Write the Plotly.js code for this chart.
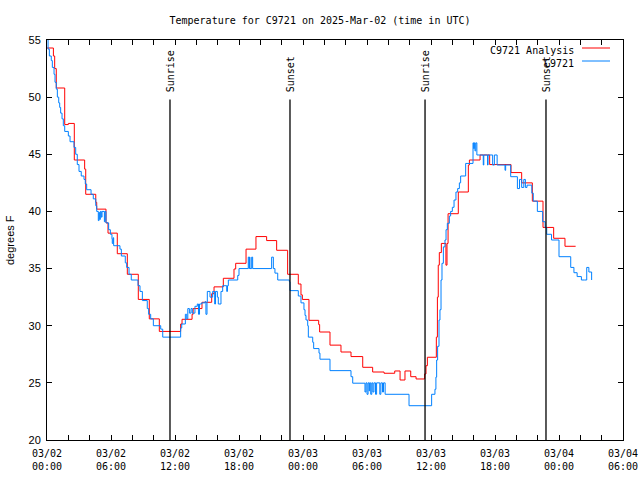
<!DOCTYPE html>
<html>
<head>
<meta charset="utf-8">
<script src="https://cdn.plot.ly/plotly-3.0.1.min.js"></script>
<style>html,body{margin:0;padding:0;background:#fff;}#chart{width:640px;height:480px;}</style>
</head>
<body>
<div id="chart"></div>
<script>
// Hours since 2025-03-02 00:00 UTC
const analysisHours = [0.00,0.60,0.72,0.87,1.66,2.00,2.56,3.53,3.63,4.57,4.66,5.53,5.72,6.59,7.53,8.56,9.59,10.53,
  12.53,12.66,13.60,13.70,14.53,15.44,15.66,16.53,17.53,17.69,18.66,19.59,20.59,21.53,22.56,23.56,23.81,23.94,
  24.56,25.47,25.56,26.53,27.56,28.50,29.60,30.53,31.60,32.60,33.10,33.56,34.10,34.60,35.40,35.53,35.66,36.50,
  36.60,36.68,36.78,36.97,37.40,37.50,37.60,38.56,39.50,39.60,40.60,41.50,43.50,44.50,45.50,46.50,47.50,48.56,49.56];
const analysisTemps = [54.3,53.6,52.5,50.8,47.6,47.7,44.5,43.7,41.5,40.8,40.2,39.0,38.1,36.3,34.5,32.3,30.6,29.5,
  30.15,30.56,31.0,31.5,32.05,32.8,33.4,34.15,34.96,35.46,36.7,37.8,37.45,36.6,34.5,33.65,32.7,32.3,
  30.47,30.1,29.45,28.3,27.7,27.3,26.36,25.95,25.84,26.04,25.25,26.04,25.54,25.34,25.78,26.5,27.24,29.0,
  32.5,35.3,36.4,37.2,35.3,37.2,39.8,41.7,44.06,44.5,44.94,44.1,43.4,42.5,40.9,38.6,37.65,36.95,36.95];

const obsHours = [0.00,0.10,0.22,0.40,0.50,0.66,0.75,0.87,0.97,1.10,1.19,1.28,1.41,1.53,1.66,2.00,2.16,2.53,2.69,2.84,
  3.00,3.21,3.47,3.59,3.72,4.13,4.34,4.57,4.66,4.81,4.88,4.94,5.00,5.09,5.16,5.38,5.44,5.53,5.78,5.94,6.09,6.12,6.20,6.25,
  6.84,6.97,7.34,7.47,7.69,7.90,8.53,8.72,8.94,9.40,9.53,9.72,9.97,10.66,10.85,
  12.53,12.63,12.97,13.10,13.20,13.35,13.50,13.62,13.87,14.09,14.20,14.30,14.50,14.81,14.90,15.00,15.03,15.28,
  15.53,15.72,15.80,15.97,16.06,16.31,16.47,16.85,16.92,17.00,17.88,18.00,18.87,18.95,18.98,19.03,19.19,19.28,21.06,21.22,
  21.37,21.63,22.72,22.78,23.56,23.81,24.09,24.19,24.28,24.44,24.50,24.91,25.00,25.50,25.59,26.53,28.50,28.66,
  29.81,29.90,30.00,30.10,30.20,30.25,30.35,30.45,30.55,30.65,30.80,30.90,31.20,31.30,31.45,31.55,31.70,33.94,
  36.06,36.37,36.46,36.53,36.62,36.75,36.84,36.94,37.03,37.16,37.31,37.41,37.53,37.72,37.84,38.00,38.16,38.34,38.50,38.66,38.78,
  39.25,39.94,40.00,40.06,40.12,40.20,40.30,40.90,40.95,41.30,41.35,41.78,41.94,42.20,42.94,43.00,43.47,44.10,
  44.30,44.50,44.70,44.85,45.00,45.45,45.59,45.97,46.47,46.70,46.85,47.30,48.00,49.10,49.40,49.70,50.10,50.40,50.60,50.80,51.06];
const obsTemps = [55.4,54.2,53.6,53.2,52.6,52.0,51.3,50.7,50.0,49.5,49.1,48.6,48.1,47.5,47.0,46.6,46.1,45.6,45.0,44.1,
  43.5,43.1,42.8,42.4,41.9,41.5,41.1,40.5,40.0,39.2,39.9,39.3,40.0,39.5,40.0,39.1,40.0,39.0,38.4,38.0,37.6,37.2,37.7,37.0,
  36.7,36.1,35.5,35.1,34.5,34.0,33.5,33.0,32.2,31.5,31.0,30.6,30.0,29.7,29.0,
  29.8,30.15,31.0,30.6,31.5,31.1,31.5,31.1,31.7,31.9,31.0,31.9,32.0,32.1,31.0,32.1,33.0,32.5,
  33.0,31.9,33.0,32.5,31.9,33.0,33.5,33.0,33.5,34.0,34.4,35.0,36.0,35.0,36.0,35.0,36.0,35.0,36.0,35.0,
  34.6,34.0,33.85,33.07,32.6,32.0,31.4,30.9,30.5,30.0,29.0,28.55,28.0,27.6,27.07,26.07,25.54,24.97,
  24.2,25.0,24.0,25.0,24.3,25.0,24.0,25.0,24.2,25.0,24.0,25.0,24.0,25.0,24.2,25.0,24.0,23.0,
  24.0,24.44,25.5,27.0,28.2,30.5,31.4,34.0,35.46,36.9,37.5,38.4,38.96,39.6,40.0,40.36,41.0,41.7,42.0,42.5,43.1,
  44.2,46.0,45.5,46.0,45.3,46.0,44.94,44.06,44.94,44.06,44.94,44.06,44.94,44.06,43.6,44.06,43.04,42.0,
  42.8,42.1,42.8,42.1,42.3,41.6,40.9,40.0,39.1,38.6,38.0,37.5,36.04,35.1,34.64,34.3,34.0,34.0,35.1,34.7,34.0];

const eventHours = [11.53, 22.78, 35.44, 46.78];
const eventLabels = ["Sunrise", "Sunset", "Sunrise", "Sunset"];

const tickHours = [0,2,4,6,8,10,12,14,16,18,20,22,24,26,28,30,32,34,36,38,40,42,44,46,48,50,52,54];
const tickLabels = ["03/02<br>00:00","","","03/02<br>06:00","","","03/02<br>12:00","","","03/02<br>18:00","","",
  "03/03<br>00:00","","","03/03<br>06:00","","","03/03<br>12:00","","","03/03<br>18:00","","",
  "03/04<br>00:00","","","03/04<br>06:00"];
const yTicks = [20,25,30,35,40,45,50,55];

const seriesNames = ["C9721 Analysis", "C9721"];
const seriesColors = ["#ff0000", "#0080ff"];

const BASE = Date.UTC(2025, 2, 2, 0, 0, 0);
const H = 3600000;
const toMs = h => BASE + h * H;

const mono = "DejaVu Sans Mono, monospace";
const sans = "Liberation Sans, Arial, sans-serif";

const traces = [
  {x: analysisHours.map(toMs), y: analysisTemps, type: "scatter", mode: "lines",
   line: {shape: "hv", color: seriesColors[0], width: 1}, name: seriesNames[0], showlegend: false, hoverinfo: "skip"},
  {x: obsHours.map(toMs), y: obsTemps, type: "scatter", mode: "lines",
   line: {shape: "hv", color: seriesColors[1], width: 1}, name: seriesNames[1], showlegend: false, hoverinfo: "skip"}
];

const shapes = [];
const annotations = [];
eventHours.forEach((h, i) => {
  shapes.push({type: "line", xref: "x", yref: "y", x0: toMs(h), x1: toMs(h), y0: 20, y1: 49.8,
    line: {color: "black", width: 1.3}});
  annotations.push({xref: "x", yref: "y", x: toMs(h), y: 50.25, text: eventLabels[i], textangle: -90,
    showarrow: false, xanchor: "center", yanchor: "bottom", font: {family: mono, size: 10, color: "black"}});
});

// legend (gnuplot style: right-justified text, sample line on the right)
const pw = 576, ph = 400;
const legendY = [50, 63];
seriesNames.forEach((n, i) => {
  annotations.push({xref: "paper", yref: "paper", x: (576 - 47) / pw, y: 1 - (legendY[i] - 40) / ph, text: n,
    showarrow: false, xanchor: "right", yanchor: "middle", font: {family: mono, size: 10, color: "black"}});
  shapes.push({type: "line", xref: "paper", yref: "paper", x0: (582 - 47) / pw, x1: (610 - 47) / pw,
    y0: 1 - (legendY[i] - 2 - 40) / ph, y1: 1 - (legendY[i] - 2 - 40) / ph, line: {color: seriesColors[i], width: 1}});
});

annotations.push({xref: "paper", yref: "paper", x: -(47 - 10) / pw, y: 0.5, text: "degrees F", textangle: -90,
  showarrow: false, xanchor: "center", yanchor: "middle", font: {family: sans, size: 11, color: "black"}});

const layout = {
  width: 640, height: 480,
  margin: {l: 47, r: 17, t: 40, b: 40},
  paper_bgcolor: "white", plot_bgcolor: "white",
  title: {text: "Temperature for C9721 on 2025-Mar-02 (time in UTC)", x: 0.5, xanchor: "center",
    y: 1 - 20 / 480, yanchor: "middle", font: {family: mono, size: 10, color: "black"}},
  xaxis: {type: "date", range: [toMs(0), toMs(54)], tickmode: "array", tickvals: tickHours.map(toMs), ticktext: tickLabels,
    ticks: "inside", ticklen: 5, tickcolor: "black", showline: true, linecolor: "black", linewidth: 1, mirror: "ticks",
    showgrid: false, zeroline: false, ticklabelstandoff: 4, tickfont: {family: mono, size: 10, color: "black"}},
  yaxis: {range: [20, 55], tickmode: "array", tickvals: yTicks, ticks: "inside", ticklen: 5, tickcolor: "black",
    showline: true, linecolor: "black", linewidth: 1, mirror: "ticks", showgrid: false, zeroline: false,
    ticklabelstandoff: 3, tickfont: {family: sans, size: 11, color: "black"}},
  shapes: shapes, annotations: annotations, showlegend: false
};

Plotly.newPlot("chart", traces, layout, {staticPlot: true, displayModeBar: false});
</script>
</body>
</html>
